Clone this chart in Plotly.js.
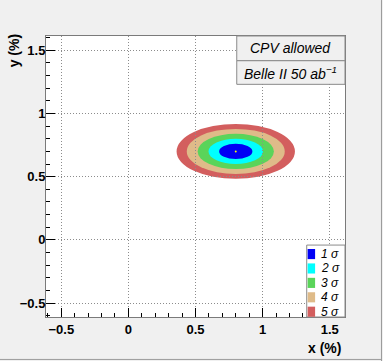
<!DOCTYPE html>
<html>
<head>
<meta charset="utf-8">
<script src="https://cdn.plot.ly/plotly-3.0.1.min.js"></script>
<style>
  html, body { margin: 0; padding: 0; background: #f0f0f0; }
  #chart { width: 383px; height: 361px; }
</style>
</head>
<body>
<div id="chart"></div>
<script>
// contour levels
const sigmaLabels = ['1 σ', '2 σ', '3 σ', '4 σ', '5 σ'];
const sigmaColors = ['#0000f5', '#00ffff', '#5ad45a', '#dfbb89', '#d35e5e'];
const centerX = [0.8];
const centerY = [0.7];
// half widths / half heights of each contour (in %)
const halfX = [0.124, 0.203, 0.284, 0.365, 0.441];
const halfY = [0.060, 0.100, 0.139, 0.178, 0.217];

const boxText = ['CPV allowed', 'Belle II 50 ab<sup>−1</sup>'];

const FONT = 'Liberation Sans, Arial, sans-serif';
const shapes = [];
const annotations = [];

// contours, biggest first so smaller ones sit on top
for (let i = halfX.length - 1; i >= 0; i--) {
    shapes.push({
        type: 'circle', xref: 'x', yref: 'y', layer: 'below',
        x0: centerX[0] - halfX[i], x1: centerX[0] + halfX[i],
        y0: centerY[0] - halfY[i], y1: centerY[0] + halfY[i],
        fillcolor: sigmaColors[i], line: { width: 0 }
    });
}

// info boxes top right
const boxY = [[0.912, 1.0], [0.828, 0.912]];
boxText.forEach((t, i) => {
    shapes.push({
        type: 'rect', xref: 'paper', yref: 'paper',
        x0: 0.638, x1: 1.0, y0: boxY[i][0], y1: boxY[i][1],
        fillcolor: '#f0f0f0', line: { color: '#8a8a8a', width: 1 }
    });
    annotations.push({
        xref: 'paper', yref: 'paper', x: 0.819, y: (boxY[i][0] + boxY[i][1]) / 2,
        xanchor: 'center', yanchor: 'middle',
        text: t, showarrow: false,
        font: { family: FONT, size: 14, style: 'italic', color: '#000' }
    });
});

// hand-made legend (ROOT style, tight rows)
shapes.push({
    type: 'rect', xref: 'paper', yref: 'paper',
    x0: 0.872, x1: 1.0, y0: 0.0, y1: 0.256,
    fillcolor: '#ffffff', line: { color: '#8a8a8a', width: 1 }
});
sigmaLabels.forEach((lab, i) => {
    const yc = 0.224 - i * 0.0513;
    shapes.push({
        type: 'rect', xref: 'paper', yref: 'paper',
        x0: 0.875, x1: 0.9, y0: yc - 0.018, y1: yc + 0.018,
        fillcolor: sigmaColors[i], line: { width: 0 }
    });
    annotations.push({
        xref: 'paper', yref: 'paper', x: 0.912, y: yc, xanchor: 'left', yanchor: 'middle',
        text: lab, showarrow: false,
        font: { family: FONT, size: 12, style: 'italic', color: '#000' }
    });
});

// axis titles, ROOT puts them at the far end
annotations.push({
    xref: 'paper', yref: 'paper', x: 0.993, y: -0.109, xanchor: 'right', yanchor: 'middle',
    text: 'x (%)', showarrow: false,
    font: { family: FONT, size: 14, weight: 700, color: '#000' }
});
annotations.push({
    xref: 'paper', yref: 'paper', x: -0.109, y: 0.947, xanchor: 'center', yanchor: 'middle',
    text: 'y (%)', showarrow: false, textangle: -90,
    font: { family: FONT, size: 14, weight: 700, color: '#000' }
});

// canvas edge (right + bottom)
shapes.push({ type: 'line', xref: 'paper', yref: 'paper', x0: 1.122, x1: 1.122, y0: -0.157, y1: 1.128,
    line: { color: '#9a9a9a', width: 1 } });
shapes.push({ type: 'line', xref: 'paper', yref: 'paper', x0: -0.16, x1: 1.122, y0: -0.151, y1: -0.151,
    line: { color: '#9a9a9a', width: 1 } });

const axisCommon = {
    dtick: 0.5, tick0: 0,
    ticks: 'inside', ticklen: 9, tickwidth: 1, tickcolor: '#000',
    minor: { dtick: 0.1, ticks: 'inside', ticklen: 4, tickcolor: '#000', showgrid: false },
    showgrid: true, gridcolor: '#8c8c8c', griddash: '1px,2px', gridwidth: 1,
    zeroline: false,
    showline: true, mirror: true, linecolor: '#7a7a7a', linewidth: 1,
    tickfont: { family: FONT, size: 13, weight: 700, color: '#000' },
    fixedrange: true
};

const traces = [{
    x: centerX, y: centerY, type: 'scatter', mode: 'markers',
    marker: { color: '#ffff00', size: 2 },
    showlegend: false, hoverinfo: 'skip'
}];

const layout = {
    width: 383, height: 361,
    margin: { l: 46, r: 38, t: 36, b: 44 },
    paper_bgcolor: '#f0f0f0',
    plot_bgcolor: '#ffffff',
    showlegend: false,
    xaxis: Object.assign({}, axisCommon, { range: [-0.614, 1.614], ticklabelstandoff: 0 }),
    yaxis: Object.assign({}, axisCommon, { range: [-0.61, 1.613], ticklabelstandoff: -3 }),
    shapes: shapes,
    annotations: annotations
};

Plotly.newPlot('chart', traces, layout, { displayModeBar: false, staticPlot: true });
</script>
</body>
</html>
